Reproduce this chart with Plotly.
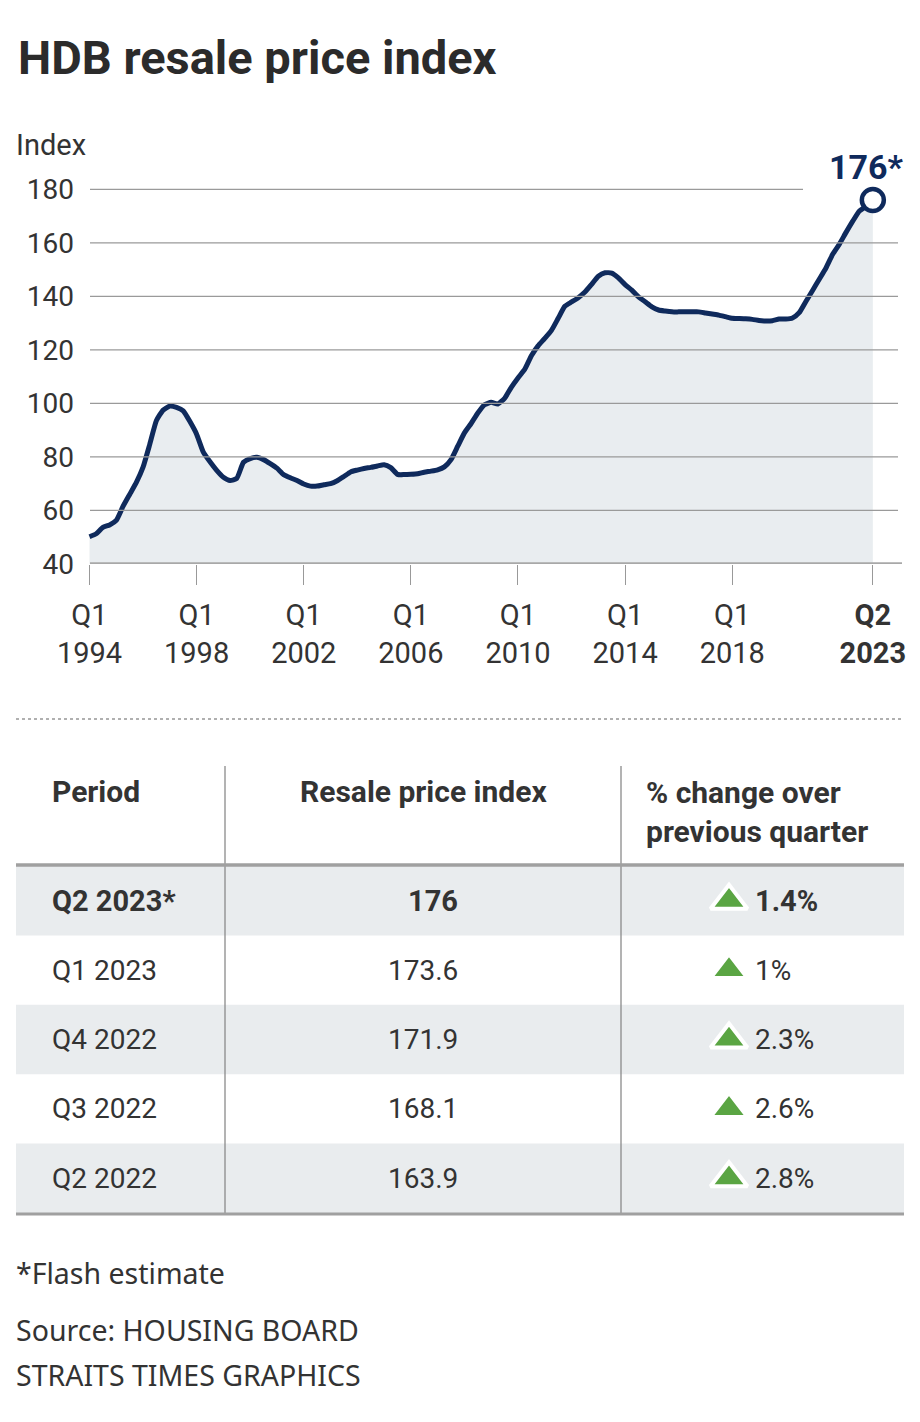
import plotly.graph_objects as go

# the page body adds an 8 px margin; the figure is sized so it ends at the window edge
OFF = 8
W, H = 920 - OFF, 1422 - OFF

# ---------------- data ----------------
start_year = 1994
rpi_values = [
    50.2, 51.3, 53.7, 54.6,      # 1994
    56.3, 61.5, 66.0, 70.5,      # 1995
    76.2, 84.7, 93.6, 97.5,      # 1996
    99.0, 98.5, 97.2, 93.2,      # 1997
    88.5, 81.8, 78.2, 75.0,      # 1998
    72.4, 71.2, 72.0, 78.0,      # 1999
    79.4, 79.9, 79.0, 77.5,      # 2000
    75.8, 73.4, 72.2, 71.2,      # 2001
    69.9, 69.1, 69.1, 69.6,      # 2002
    70.0, 71.1, 72.7, 74.4,      # 2003
    75.1, 75.7, 76.1, 76.6,      # 2004
    77.1, 76.0, 73.5, 73.4,      # 2005
    73.5, 73.7, 74.3, 74.7,      # 2006
    75.2, 76.3, 79.0, 84.0,      # 2007
    89.0, 92.5, 96.4, 99.5,      # 2008
    100.4, 99.8, 101.9, 106.0,   # 2009
    109.5, 112.7, 117.8, 121.5,  # 2010
    124.3, 127.3, 131.8, 136.3,  # 2011
    137.9, 139.5, 141.6, 144.5,  # 2012
    147.5, 148.8, 148.7, 146.9,  # 2013
    144.4, 142.3, 139.8, 138.0,  # 2014
    136.1, 134.9, 134.5, 134.2,  # 2015
    134.2, 134.2, 134.2, 134.2,  # 2016
    133.8, 133.4, 133.0, 132.4,  # 2017
    131.8, 131.7, 131.6, 131.4,  # 2018
    131.0, 130.8, 130.9, 131.5,  # 2019
    131.5, 131.9, 133.9, 138.1,  # 2020
    142.2, 146.4, 150.6, 155.7,  # 2021
    159.5, 163.9, 168.1, 171.9,  # 2022
    173.6, 176.0,                # 2023
]
x_vals = [start_year + i / 4 for i in range(len(rpi_values))]

x_tick_vals = [1994, 1998, 2002, 2006, 2010, 2014, 2018, 2023.25]
x_tick_text = ["Q1<br>1994", "Q1<br>1998", "Q1<br>2002", "Q1<br>2006",
               "Q1<br>2010", "Q1<br>2014", "Q1<br>2018", "<b>Q2<br>2023</b>"]
y_ticks = [40, 60, 80, 100, 120, 140, 160, 180]

table_periods = ["Q2 2023*", "Q1 2023", "Q4 2022", "Q3 2022", "Q2 2022"]
table_index = ["176", "173.6", "171.9", "168.1", "163.9"]
table_change = ["1.4%", "1%", "2.3%", "2.6%", "2.8%"]

# ---------------- style ----------------
NAVY = "#0f2a5c"
FILL = "#e9edf0"
TXT = "#333333"
GRID = "#9a9a9a"
GREEN = "#5aa543"
ROW_FILL = "#e9ecee"
FONT = "Roboto"
FOOT_FONT = "Noto Sans"


def px(x):
    return (x - OFF) / W


def py(y):
    return 1 - (y - OFF) / H


fig = go.Figure()

fig.add_trace(go.Scatter(
    x=x_vals, y=rpi_values, mode="lines",
    line=dict(color=NAVY, width=5, shape="spline", smoothing=0.5),
    fill="tozeroy", fillcolor=FILL, hoverinfo="skip", showlegend=False,
))
fig.add_trace(go.Scatter(
    x=[x_vals[-1]], y=[rpi_values[-1]], mode="markers",
    marker=dict(size=22, color="white", line=dict(color=NAVY, width=4.5)),
    cliponaxis=False, hoverinfo="skip", showlegend=False,
))

# table triangles
fig.add_trace(go.Scatter(
    x=[729] * len(table_change), y=list(range(len(table_change))),
    xaxis="x2", yaxis="y2", mode="markers",
    marker=dict(symbol="triangle-up", size=32, color=GREEN,
                line=dict(color="white", width=4)),
    cliponaxis=False, hoverinfo="skip", showlegend=False,
))

shapes = []
# gridlines
for v in y_ticks[1:]:
    shapes.append(dict(type="line", xref="paper", yref="y",
                       x0=px(90), x1=px(803) if v == y_ticks[-1] else px(898),
                       y0=v, y1=v, line=dict(color=GRID, width=1.3), layer="above"))
shapes.append(dict(type="line", xref="paper", yref="y", x0=px(90), x1=px(902),
                   y0=y_ticks[0], y1=y_ticks[0],
                   line=dict(color="#a8a8a8", width=3.5), layer="above"))

# dotted separator
shapes.append(dict(type="line", xref="paper", yref="paper", x0=px(16), x1=px(904),
                   y0=py(719), y1=py(719), line=dict(color="#b0b0b0", width=2, dash="dot")))

# table row fills
for i in range(len(table_periods)):
    if i % 2 == 0:
        shapes.append(dict(type="rect", xref="paper", yref="y2", x0=px(16), x1=px(904),
                           y0=i - 0.5, y1=i + 0.5, fillcolor=ROW_FILL,
                           line=dict(width=0), layer="below"))
# table lines
for xv in (225, 621):
    shapes.append(dict(type="line", xref="paper", yref="paper", x0=px(xv), x1=px(xv),
                       y0=py(766), y1=py(1213), line=dict(color="#8a8a8a", width=1.3)))
shapes.append(dict(type="line", xref="paper", yref="paper", x0=px(16), x1=px(904),
                   y0=py(865), y1=py(865), line=dict(color="#a0a0a0", width=3.5)))
shapes.append(dict(type="line", xref="paper", yref="paper", x0=px(16), x1=px(904),
                   y0=py(1214), y1=py(1214), line=dict(color="#a0a0a0", width=3)))

ann = []
ann.append(dict(text="<b>HDB resale price index</b>", x=px(16), y=py(57),
                xref="paper", yref="paper", xanchor="left", yanchor="middle",
                showarrow=False, font=dict(family=FONT, size=47, color="#2b2b2b")))
ann.append(dict(text="Index", x=px(14), y=py(145), xref="paper", yref="paper",
                xanchor="left", yanchor="middle", showarrow=False,
                font=dict(family=FONT, size=29, color=TXT)))
ann.append(dict(text="<b>176*</b>", x=x_vals[-1], y=rpi_values[-1], xref="x", yref="y",
                xanchor="center", yanchor="middle", xshift=-6, yshift=33, showarrow=False,
                font=dict(family=FONT, size=34, color=NAVY)))

# table header
hdr_font = dict(family=FONT, size=30, color=TXT)
ann.append(dict(text="<b>Period</b>", x=px(50), y=py(791), xref="paper", yref="paper",
                xanchor="left", yanchor="middle", showarrow=False, font=hdr_font))
ann.append(dict(text="<b>Resale price index</b>", x=px(423), y=py(791), xref="paper",
                yref="paper", xanchor="center", yanchor="middle", showarrow=False,
                font=hdr_font))
ann.append(dict(text="<b>% change over<br>previous quarter</b>", x=px(644), y=py(811.5),
                xref="paper", yref="paper", xanchor="left", yanchor="middle",
                align="left", showarrow=False, font=hdr_font))

# table rows
for i, (p, v, c) in enumerate(zip(table_periods, table_index, table_change)):
    bold = i == 0
    f = dict(family=FONT, size=29 if bold else 28, color=TXT)
    wrap = (lambda s: f"<b>{s}</b>") if bold else (lambda s: s)
    ann.append(dict(text=wrap(p), x=50, y=i, xref="x2", yref="y2", xanchor="left",
                    yanchor="middle", showarrow=False, font=f))
    ann.append(dict(text=wrap(v), x=460, y=i, xref="x2", yref="y2", xanchor="right",
                    yanchor="middle", showarrow=False, font=f))
    ann.append(dict(text=wrap(c), x=753, y=i, xref="x2", yref="y2", xanchor="left",
                    yanchor="middle", showarrow=False, font=f))

# footnotes
foot = dict(family=FOOT_FONT, size=28.5, color=TXT)
for txt, yy in (("*Flash estimate", 1273), ("Source: HOUSING BOARD", 1330),
                ("STRAITS TIMES GRAPHICS", 1375)):
    ann.append(dict(text=txt, x=px(14), y=py(yy), xref="paper", yref="paper",
                    xanchor="left", yanchor="middle", showarrow=False, font=foot))

fig.update_layout(
    width=W, height=H,
    margin=dict(l=0, r=0, t=0, b=0, autoexpand=False),
    paper_bgcolor="white", plot_bgcolor="rgba(0,0,0,0)",
    showlegend=False,
    xaxis=dict(domain=[px(87), px(898)], range=[1993.907, 2024.19],
               tickvals=x_tick_vals, ticktext=x_tick_text,
               ticks="outside", ticklen=20, tickcolor="#999999", tickwidth=1.3,
               showgrid=False, zeroline=False, showline=False, automargin=False,
               ticklabelstandoff=5,
               tickfont=dict(family=FONT, size=29, color=TXT), fixedrange=True),
    yaxis=dict(domain=[py(564), py(150)], range=[40, 194.68],
               tickvals=y_ticks, ticks="", showgrid=False, zeroline=False,
               showline=False, ticklabelstandoff=12, automargin=False,
               tickfont=dict(family=FONT, size=28, color=TXT), fixedrange=True),
    xaxis2=dict(domain=[0, 1], range=[OFF, OFF + W], visible=False, fixedrange=True,
                automargin=False),
    yaxis2=dict(domain=[py(1213), py(866)], range=[len(table_periods) - 0.5, -0.5],
                visible=False, fixedrange=True, anchor="x2", automargin=False),
    shapes=shapes,
    annotations=ann,
)

fig.write_html("out.html")
